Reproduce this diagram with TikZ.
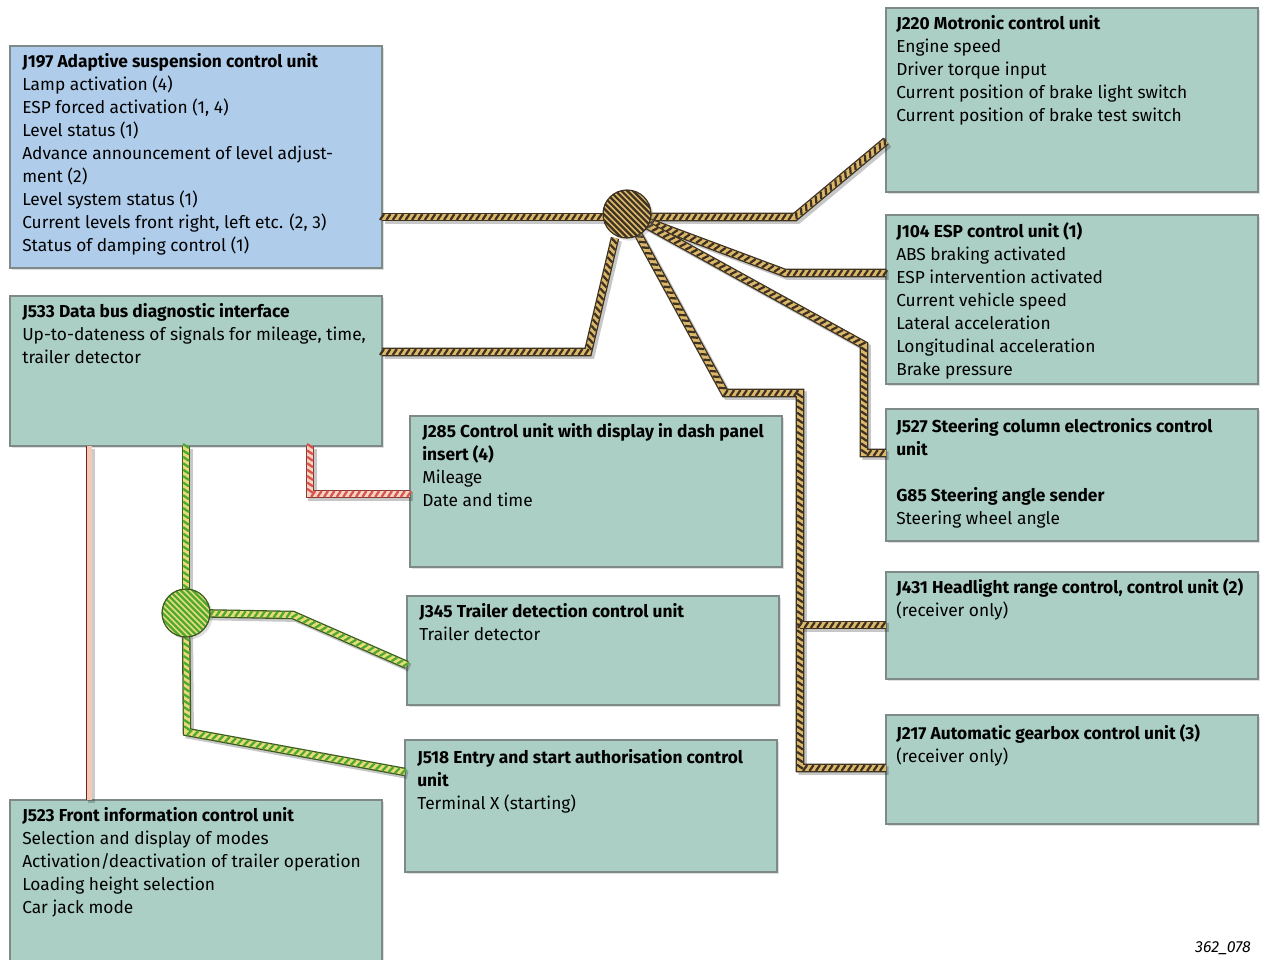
\documentclass[tikz,border=0pt]{standalone}
\usepackage{fontspec}
\setmainfont{Fira Sans}
\usetikzlibrary{shadows,calc,decorations.markings}
\definecolor{boxgreen}{HTML}{ABCFC4}
\definecolor{boxblue}{HTML}{AFCDEB}
\definecolor{boxline}{HTML}{7D8A88}
\definecolor{gold}{HTML}{DDB86A}
\definecolor{golddark}{HTML}{3E3322}
\definecolor{cgreen}{HTML}{4FA832}
\definecolor{cyellow}{HTML}{E6DC78}
\definecolor{greendark}{HTML}{3A5A20}
\definecolor{cred}{HTML}{D8544C}
\definecolor{cpink}{HTML}{F6D4C4}
\definecolor{reddark}{HTML}{8A3A30}
\definecolor{pinkline}{HTML}{F5C9B3}
\tikzset{
 box/.style={draw=boxline, line width=0.8pt, rectangle, anchor=north west, inner sep=0pt, outer sep=0pt,
   drop shadow={shadow xshift=1.5pt, shadow yshift=-1.5pt, opacity=0.25}},
 txt/.style={anchor=north west, align=left, inner sep=0pt, font=\fontsize{13}{17.25}\selectfont},
 cable/.style n args={3}{line width=4.4pt, draw=#1, line join=miter,
   preaction={draw=black, opacity=0.22, line width=6.4pt, transform canvas={shift={(2pt,-2pt)}}},
   preaction={draw=#3, line width=6.4pt},
   postaction={decorate, decoration={markings, mark=between positions 0 and 1 step 4.8pt with
     {\draw[#2, line width=1.7pt] (-1.5pt,-2.2pt) -- (1.5pt,2.2pt);}}}},
 goldcable/.style={cable={gold}{golddark}{golddark}},
 greencable/.style={cable={cyellow}{cgreen}{greendark}},
 redcable/.style={cable={cpink}{cred}{reddark}},
 hub/.style n args={3}{circle, minimum size=36pt, inner sep=0pt, outer sep=0pt, fill=#1, draw=#3, line width=0.9pt,
   drop shadow={shadow xshift=2pt, shadow yshift=-2pt, opacity=0.25},
   path picture={\foreach \k in {-12,...,12}
     \draw[#2, line width=1.7pt] ([xshift=\k*4.4pt-30pt, yshift=30pt]path picture bounding box.center) -- ++(60pt,-60pt);}},
}
\begin{document}
\begin{tikzpicture}[x=0.75pt,y=-0.75pt]
\useasboundingbox (0,0) rectangle (1261,960);
% boxes
\node[box, fill=boxblue, minimum width=279pt, minimum height=166.5pt] (j197) at (10,46) {};
\node[box, fill=boxgreen, minimum width=279pt, minimum height=112.5pt] (j533) at (10,296) {};
\node[box, fill=boxgreen, minimum width=279pt, minimum height=127.5pt] (j523) at (10,800) {};
\node[box, fill=boxgreen, minimum width=279pt, minimum height=113.25pt] (j285) at (410,416) {};
\node[box, fill=boxgreen, minimum width=279pt, minimum height=81.75pt] (j345) at (407,596) {};
\node[box, fill=boxgreen, minimum width=279pt, minimum height=99pt] (j518) at (405,740) {};
\node[box, fill=boxgreen, minimum width=279pt, minimum height=138pt] (j220) at (886,8) {};
\node[box, fill=boxgreen, minimum width=279pt, minimum height=126.75pt] (j104) at (886,215) {};
\node[box, fill=boxgreen, minimum width=279pt, minimum height=99pt] (j527) at (886,409) {};
\node[box, fill=boxgreen, minimum width=279pt, minimum height=80.25pt] (j431) at (886,572) {};
\node[box, fill=boxgreen, minimum width=279pt, minimum height=81.75pt] (j217) at (886,715) {};
% hubs
\coordinate (h1) at (627,214);
\coordinate (h2) at (186,613);
% cables (gold)
\draw[goldcable] (j197.east |- h1) ++(0,3) -- ($(h1)+(0,3)$);
\draw[goldcable] (h1) -- ++(0,3) -- (795,217) -- (j220.west |- 0,141);
\draw[goldcable] (h1) -- (785,273) -- (j104.west |- 0,273);
\draw[goldcable] (h1) -- (864,345) -- (864,453) -- (j527.west |- 0,453);
\draw[goldcable] (h1) -- (725,393) -- (800,393) -- (800,768) -- (j217.west |- 0,768);
\draw[goldcable] (800,625) -- (j431.west |- 0,625);
\draw[goldcable] (j533.east |- 0,352) -- (588,352) -- ($(h1)+(-12,24)$);
% green
\draw[greencable] (j533.south -| h2) -- (h2);
\draw[greencable] (h2) -- (293,615) -- (j345.west |- 0,665);
\draw[greencable] (h2) -- (187,732) -- (j518.west |- 0,772);
% red
\draw[redcable] (j533.south -| 310,0) -- (310,494) -- (j285.west |- 0,494);
% pink
\draw[draw=reddark!70!black, line width=5pt, preaction={draw=black, opacity=0.2, line width=5pt, transform canvas={shift={(2pt,-2pt)}}}] (j533.south -| 89,0) -- (j523.north -| 89,0);
\draw[draw=pinkline, line width=3.6pt] ([xshift=0.2pt]j533.south -| 89,0) -- ([xshift=0.2pt]j523.north -| 89,0);
% hub nodes
\node[hub={gold}{golddark}{golddark}] (hub1) at (h1) {};
\node[hub={cyellow}{cgreen}{greendark}] (hub2) at (h2) {};
% texts
\node[txt] (t197) at ($(j197.north west)+(12,7)$) {\textbf{J197 Adaptive suspension control unit}\\Lamp activation (4)\\ESP forced activation (1, 4)\\Level status (1)\\Advance announcement of level adjust-\\ment (2)\\Level system status (1)\\Current levels front right, left etc. (2, 3)\\Status of damping control (1)};
\node[txt] (t533) at ($(j533.north west)+(12,7)$) {\textbf{J533 Data bus diagnostic interface}\\Up-to-dateness of signals for mileage, time,\\trailer detector};
\node[txt] (t523) at ($(j523.north west)+(12,7)$) {\textbf{J523 Front information control unit}\\Selection and display of modes\\Activation/deactivation of trailer operation\\Loading height selection\\Car jack mode};
\node[txt] (t285) at ($(j285.north west)+(12,7)$) {\textbf{J285 Control unit with display in dash panel}\\\textbf{insert (4)}\\Mileage\\Date and time};
\node[txt] (t345) at ($(j345.north west)+(12,7)$) {\textbf{J345 Trailer detection control unit}\\Trailer detector};
\node[txt] (t518) at ($(j518.north west)+(12,9)$) {\textbf{J518 Entry and start authorisation control}\\\textbf{unit}\\Terminal X (starting)};
\node[txt] (t220) at ($(j220.north west)+(10,7)$) {\textbf{J220 Motronic control unit}\\Engine speed\\Driver torque input\\Current position of brake light switch\\Current position of brake test switch};
\node[txt] (t104) at ($(j104.north west)+(10,7)$) {\textbf{J104 ESP control unit (1)}\\ABS braking activated\\ESP intervention activated\\Current vehicle speed\\Lateral acceleration\\Longitudinal acceleration\\Brake pressure};
\node[txt] (t527) at ($(j527.north west)+(10,9)$) {\textbf{J527 Steering column electronics control}\\\textbf{unit}\\[17.25pt]\textbf{G85 Steering angle sender}\\Steering wheel angle};
\node[txt] (t431) at ($(j431.north west)+(10,6)$) {\textbf{J431 Headlight range control, control unit (2)}\\(receiver only)};
\node[txt] (t217) at ($(j217.north west)+(10,9)$) {\textbf{J217 Automatic gearbox control unit (3)}\\(receiver only)};
\node[anchor=east, inner sep=0pt, font=\itshape\fontsize{12}{12}\selectfont] (fig) at (1251,948) {362\_078};
\end{tikzpicture}
\end{document}
